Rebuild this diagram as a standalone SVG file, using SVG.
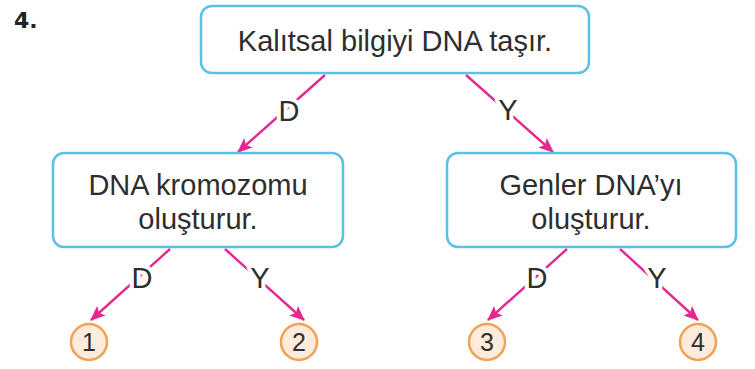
<svg xmlns="http://www.w3.org/2000/svg" width="755" height="369" viewBox="0 0 755 369">
<defs>
<style>
.box{fill:#ffffff;stroke:#5cbfe8;stroke-width:2.5}
.t{font-family:"Liberation Sans",Arial,sans-serif;font-size:29px;fill:#2e2e2e;text-anchor:middle}
.lbl{font-family:"Liberation Sans",Arial,sans-serif;font-size:29px;fill:#2e2e2e;text-anchor:middle;stroke:#ffffff;stroke-width:8px;paint-order:stroke;stroke-linejoin:round}
.c{fill:#fdebdc;stroke:#f0a255;stroke-width:2.5}
.n{font-family:"Liberation Sans",Arial,sans-serif;font-size:25px;fill:#2e2e2e;text-anchor:middle}
.arr{stroke:#e5288f;stroke-width:2.4;fill:none;marker-end:url(#ah)}
</style>
<marker id="ah" viewBox="0 0 14 12" refX="13" refY="6" markerWidth="15" markerHeight="13" markerUnits="userSpaceOnUse" orient="auto">
<path d="M0,0 L14,6 L0,12 L3,6 z" fill="#e5288f"/>
</marker>
</defs>
<text x="14" y="28" font-family="DejaVu Sans,sans-serif" font-weight="bold" font-size="22" fill="#222">4.</text>
<g id="connectors">
<line class="arr" x1="325" y1="75" x2="238" y2="152"/>
<line class="arr" x1="466" y1="75" x2="553" y2="152"/>
<line class="arr" x1="170" y1="249" x2="91" y2="320"/>
<line class="arr" x1="225" y1="249" x2="304" y2="320"/>
<line class="arr" x1="567" y1="249" x2="488" y2="320"/>
<line class="arr" x1="620" y1="249" x2="698" y2="320"/>
<text class="lbl" x="289" y="121">D</text>
<text class="lbl" x="508" y="120">Y</text>
<text class="lbl" x="142" y="288">D</text>
<text class="lbl" x="260" y="288">Y</text>
<text class="lbl" x="537" y="288">D</text>
<text class="lbl" x="657" y="288">Y</text>
</g>
<g id="root">
<rect class="box" x="201" y="6" width="388" height="67" rx="11"/>
<text class="t" x="395" y="51">Kalıtsal bilgiyi DNA taşır.</text>
</g>
<g id="left">
<rect class="box" x="53" y="153" width="290" height="94" rx="11"/>
<text class="t" x="198" y="195">DNA kromozomu</text>
<text class="t" x="198" y="229">oluşturur.</text>
</g>
<g id="right">
<rect class="box" x="447" y="153" width="289" height="94" rx="11"/>
<text class="t" x="591" y="195">Genler DNA’yı</text>
<text class="t" x="591" y="229">oluşturur.</text>
</g>
<g id="n1"><circle class="c" cx="89" cy="342" r="18"/><text class="n" x="89" y="351">1</text></g>
<g id="n2"><circle class="c" cx="299" cy="342" r="18"/><text class="n" x="299" y="351">2</text></g>
<g id="n3"><circle class="c" cx="487" cy="342" r="18"/><text class="n" x="487" y="351">3</text></g>
<g id="n4"><circle class="c" cx="698" cy="342" r="18"/><text class="n" x="698" y="351">4</text></g>
</svg>
